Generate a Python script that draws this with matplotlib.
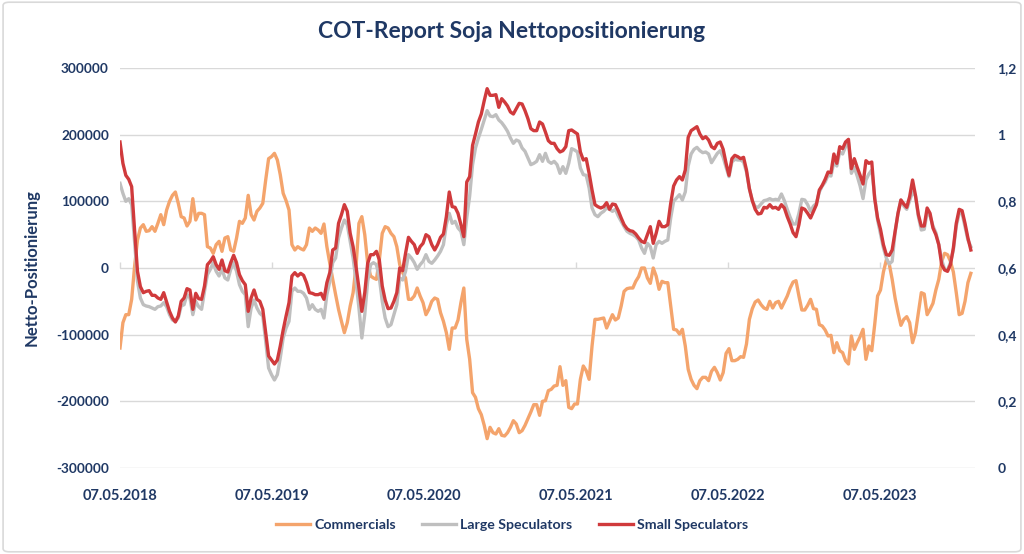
import numpy as np
import pandas as pd
import matplotlib
matplotlib.use("Agg")
import matplotlib.pyplot as plt
from matplotlib.patches import FancyBboxPatch
from matplotlib.ticker import FuncFormatter

# ---------------- data (net positions, in thousands of contracts) ----------------
start_date = "2018-05-07"
n_weeks = 293

commercials_k = [
    -120, -82, -70, -70, -47, 2, 42, 60, 65, 55, 56, 62, 55, 67, 80, 65, 87, 100, 109, 114,
    97, 77, 75, 63, 70, 104, 72, 82, 82, 80, 32, 30, 22, 35, 40, 25, 45, 47, 27, 25,
    45, 70, 67, 75, 109, 80, 72, 85, 90,
    97, 132, 164, 167, 172, 162, 140, 112, 101, 87, 35, 27, 32, 29, 27, 35, 60, 55, 60, 57,
    52, 66, 32, 7, -17, -40, -62, -80, -97, -82, -57, -37, 2, 67, 77, 50, 7, -12, -15, -17,
    12, 52, 62, 60, 52, 47, 32, 5,
    -7, -15, -47, -47, -42, -30, -42, -52, -70, -62, -50, -45, -47, -67, -80, -97, -122, -90, -90, -78,
    -52, -30, -107, -137, -187, -194, -211, -220, -236, -256, -239, -247, -249, -241, -251, -252, -247, -239, -229, -234,
    -247, -244, -236, -226, -216, -205, -205, -221,
    -200, -199, -184, -182, -177, -176, -148, -176, -169, -209, -211, -204, -204, -167, -147, -154, -167, -117, -77, -77,
    -76, -75, -90, -80, -70, -78, -75, -57, -35, -31, -30, -30, -20, -13, 0, 0, -15, -23, 0, -12,
    -32, -20, -22, -22, -57, -92, -93, -99,
    -92, -117, -152, -167, -176, -181, -169, -164, -164, -169, -155, -149, -157, -168, -157, -128, -121, -139, -139, -137,
    -133, -134, -114, -77, -61, -51, -48, -55, -60, -62, -50, -60, -52, -50, -60, -51, -42, -30, -21, -19,
    -42, -63, -63, -56, -47, -61, -62, -85,
    -87, -93, -102, -101, -127, -112, -124, -127, -139, -144, -102, -122, -112, -103, -92, -137, -117, -124, -85, -42,
    -33, -6, 12, 6, -17, -45, -67, -86, -77, -73, -82, -112, -97, -67, -37, -39, -70, -62, -53, -33,
    -17, 10, 22, 20, 10, -6, -37, -70, -68, -50, -22, -8,
]

large_spec_k = [
    127, 112, 100, 104, 95, 40, -20, -45, -55, -57, -58, -60, -62, -58, -57, -52, -58, -70, -78, -80,
    -75, -57, -55, -40, -45, -70, -50, -58, -62, -35, -10, -2, 8, -5, -12, -2, -15, -18, -2, 8,
    -5, -25, -35, -40, -88, -60, -48, -60, -68,
    -72, -110, -150, -160, -168, -160, -135, -105, -90, -80, -35, -30, -35, -35, -38, -45, -62, -55, -62, -65,
    -62, -75, -40, -20, 8, 15, 45, 60, 72, 65, 40, 15, -20, -60, -105, -70, -20, 5, 8, 5,
    -15, -50, -75, -88, -85, -70, -55, -15,
    -18, -5, 20, 15, 8, -2, 5, 10, 20, 10, 7, 12, 18, 25, 35, 65, 82, 67, 70, 60,
    55, 35, 75, 108, 155, 180, 195, 208, 222, 236, 228, 227, 230, 222, 218, 212, 205, 195, 187, 192,
    190, 180, 175, 165, 155, 157, 160, 170,
    160, 172, 160, 157, 160, 155, 142, 152, 142, 157, 179, 177, 174, 150, 140, 139, 120, 90, 80, 77,
    82, 85, 90, 88, 85, 88, 78, 70, 62, 55, 52, 50, 47, 42, 30, 22, 37, 32, 15, 35,
    40, 37, 40, 42, 75, 100, 105, 110,
    102, 114, 153, 171, 178, 181, 176, 173, 174, 171, 158, 165, 172, 176, 166, 151, 137, 159, 163, 162,
    162, 159, 144, 119, 101, 92, 91, 96, 101, 102, 104, 102, 103, 102, 111, 101, 88, 76, 66, 66,
    82, 103, 102, 95, 85, 93, 97, 114,
    123, 129, 139, 138, 159, 153, 174, 171, 182, 189, 142, 151, 138, 123, 104, 132, 141, 147, 107, 72,
    51, 30, 15, 6, 10, 53, 82, 102, 93, 88, 101, 114, 108, 77, 57, 58, 83, 78, 63, 53,
    35, 12, -2, -3, 8, 27, 63, 82, 82, 62, 42, 32,
]

small_spec_k = [
    189, 157, 139, 133, 122, 57, -5, -28, -37, -35, -34, -41, -41, -45, -47, -37, -51, -65, -75, -81,
    -72, -50, -45, -31, -33, -62, -38, -46, -47, -27, 5, 10, 17, 5, -2, 12, -4, -6, 8, 19,
    8, -10, -19, -25, -65, -45, -33, -47, -50,
    -62, -97, -132, -138, -144, -138, -117, -93, -72, -52, -12, -7, -12, -8, -11, -22, -37, -38, -40, -40,
    -38, -47, -22, -7, 27, 30, 67, 80, 95, 85, 52, 32, 2, -30, -65, -37, 7, 20, 20, 25,
    12, -27, -48, -61, -60, -50, -37, 0,
    -4, 22, 46, 40, 35, 22, 32, 37, 50, 47, 35, 27, 35, 46, 51, 77, 114, 92, 91, 82,
    65, 47, 129, 137, 184, 201, 219, 231, 251, 269, 259, 259, 260, 241, 254, 249, 243, 234, 231, 239,
    247, 246, 236, 224, 209, 206, 206, 219,
    216, 204, 191, 187, 187, 179, 174, 176, 182, 206, 207, 204, 201, 174, 162, 164, 142, 117, 95, 92,
    90, 92, 98, 88, 96, 95, 86, 75, 65, 59, 56, 55, 51, 45, 40, 38, 50, 62, 37, 52,
    70, 62, 62, 65, 97, 123, 132, 137,
    132, 147, 196, 206, 209, 212, 201, 194, 197, 192, 182, 179, 187, 189, 178, 157, 139, 164, 169, 167,
    164, 166, 147, 119, 101, 88, 81, 82, 91, 90, 95, 90, 91, 88, 95, 90, 77, 66, 53, 47,
    65, 90, 88, 82, 75, 85, 95, 117,
    124, 133, 144, 143, 171, 157, 182, 179, 189, 193, 149, 164, 151, 139, 126, 161, 157, 159, 104, 75,
    58, 35, 20, 19, 27, 55, 82, 102, 96, 91, 107, 132, 109, 80, 63, 63, 90, 82, 60, 50,
    35, 5, -3, -5, 5, 30, 67, 88, 86, 67, 45, 27,
]

series_names = ["Commercials", "Large Speculators", "Small Speculators"]
tick_dates = ["2018-05-07", "2019-05-07", "2020-05-07", "2021-05-07", "2022-05-07", "2023-05-07"]
left_ticks = [-300000, -200000, -100000, 0, 100000, 200000, 300000]
right_ticks = [0, 0.2, 0.4, 0.6, 0.8, 1.0, 1.2]

# ---------------- styling ----------------
TXT = "#1f3864"
GRID = "#d9d9d9"
colors = ["#f4a46c", "#bfbfbf", "#d03a3c"]
FONT = "Lato"

dates = pd.date_range(start_date, periods=n_weeks, freq="7D")
values = [np.array(commercials_k) * 1000,
          np.array(large_spec_k) * 1000,
          np.array(small_spec_k) * 1000]

fig = plt.figure(figsize=(10.24, 5.54), dpi=100)
ax = fig.add_axes([120 / 1024, 1 - 468 / 554, 855 / 1024, 400 / 554])

for v, c, name in zip(values, colors, series_names):
    ax.plot(dates, v, color=c, lw=2.4, label=name, solid_joinstyle="round", zorder=3)

x0 = pd.Timestamp(start_date)
ax.set_xlim(x0, x0 + pd.Timedelta(days=2054))
ax.set_ylim(-300000, 300000)
ax.set_yticks(left_ticks)
ax.set_yticklabels([str(t) for t in left_ticks])
ax.yaxis.grid(True, color=GRID, lw=1.0, zorder=0)
ax.set_axisbelow(True)
for s in ax.spines.values():
    s.set_visible(False)

tds = [pd.Timestamp(d) for d in tick_dates]
ax.set_xticks(tds)
ax.set_xticklabels([d.strftime("%d.%m.%Y") for d in tds])
ax.tick_params(axis="x", length=0, pad=15)
ax.tick_params(axis="y", length=0, pad=8)
for lab in ax.get_xticklabels():
    lab.set_fontfamily(FONT)
    lab.set_fontweight("bold")
    lab.set_fontsize(10.5)
    lab.set_color(TXT)
for lab in ax.get_yticklabels():
    lab.set_fontfamily(FONT)
    lab.set_fontweight("bold")
    lab.set_fontsize(9.8)
    lab.set_color(TXT)

# horizontal axis line at zero with tick marks
sec = ax.secondary_xaxis(0.5)
sec.set_xticks(tds)
sec.set_xticklabels([])
sec.tick_params(axis="x", direction="out", length=4, color=GRID, width=1)
sec.spines["bottom"].set_color(GRID)
sec.spines["top"].set_visible(False)

ax.set_ylabel("Netto-Positionierung", fontfamily=FONT, fontweight="bold",
              fontsize=12, color=TXT, labelpad=12)

# secondary (right) axis
ax2 = ax.twinx()
ax2.set_ylim(0, 1.2)
ax2.set_yticks(right_ticks)
ax2.yaxis.set_major_formatter(FuncFormatter(lambda v, p: ("%g" % round(v, 1)).replace(".", ",")))
ax2.tick_params(axis="y", length=0, pad=16)
for s in ax2.spines.values():
    s.set_visible(False)
for lab in ax2.get_yticklabels():
    lab.set_fontfamily(FONT)
    lab.set_fontweight("bold")
    lab.set_fontsize(10)
    lab.set_color(TXT)

fig.suptitle("COT-Report Soja Nettopositionierung", x=0.5, y=1 - 32 / 554, va="center",
             fontfamily=FONT, fontweight="bold", fontsize=16.5, color=TXT)

handles, labels = ax.get_legend_handles_labels()
leg = fig.legend(handles, labels, loc="center", bbox_to_anchor=(0.5, 1 - 525 / 554), ncol=3,
                 frameon=False, handlelength=2.4, handletextpad=0.3, columnspacing=1.85,
                 prop={"family": FONT, "weight": "bold", "size": 10.2})
for t in leg.get_texts():
    t.set_color(TXT)

border = FancyBboxPatch((0.003, 0.004), 0.994, 0.992, boxstyle="round,pad=0,rounding_size=0.006",
                        transform=fig.transFigure, fill=False, edgecolor=GRID, lw=1.2)
fig.patches.append(border)

fig.savefig("out.png", dpi=100, facecolor="white")
